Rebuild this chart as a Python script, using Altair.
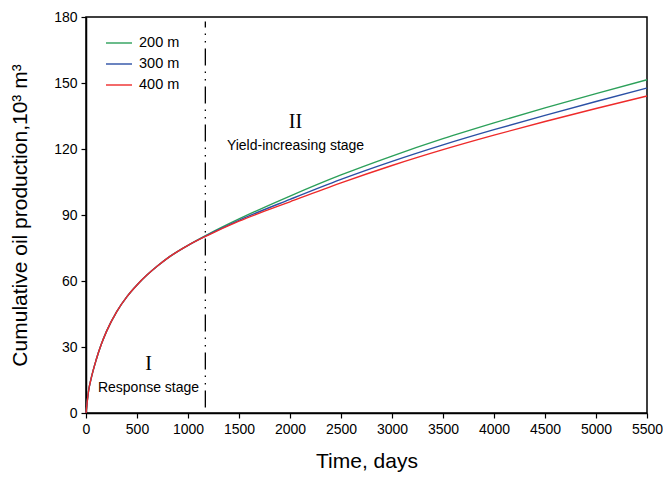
import altair as alt
import pandas as pd

# ---- data ----
days = [0, 25, 50, 100, 150, 200, 300, 400, 500, 600, 700, 800, 1000, 1200,
        1500, 2000, 2500, 3000, 3500, 4000, 4500, 5000, 5500]
prod_200 = [0, 10.0, 15.6, 24.2, 31.2, 37.0, 46.0, 52.8, 58.2, 62.8, 66.8, 70.4, 76.2, 81.3,
            88.2, 98.6, 108.2, 116.8, 124.7, 131.9, 138.7, 145.2, 151.5]
prod_300 = [0, 10.0, 15.6, 24.2, 31.2, 37.0, 46.0, 52.8, 58.2, 62.8, 66.8, 70.4, 76.2, 81.1,
            87.6, 97.1, 106.2, 114.4, 121.9, 128.8, 135.3, 141.6, 147.7]
prod_400 = [0, 10.0, 15.6, 24.2, 31.2, 37.0, 46.0, 52.8, 58.2, 62.8, 66.8, 70.4, 76.2, 80.9,
            87.2, 96.0, 104.6, 112.5, 119.7, 126.3, 132.5, 138.4, 144.1]
series_names = ["200 m", "300 m", "400 m"]
series_colors = ["#2ca05a", "#2b50a5", "#ee2a2a"]

x_ticks = list(range(0, 5501, 500))
y_ticks = list(range(0, 181, 30))

divider_day = [1170]
divider_lo = [2.5]
divider_hi = [178]

roman_labels = ["I", "II"]
roman_x = [613, 2054]
roman_y = [22.5, 132.5]
stage_labels = ["Response stage", "Yield-increasing stage"]
stage_x = [613, 2054]
stage_y = [11.5, 121.5]

rows = []
for name, vals in zip(series_names, [prod_200, prod_300, prod_400]):
    for d, v in zip(days, vals):
        rows.append({"day": d, "prod": v, "series": name})
df = pd.DataFrame(rows)

xscale = alt.Scale(domain=[0, 5500], nice=False)
yscale = alt.Scale(domain=[0, 180], nice=False)

lines = alt.Chart(df).mark_line(strokeWidth=1.4, interpolate="monotone").encode(
    x=alt.X("day:Q", scale=xscale,
            axis=alt.Axis(values=x_ticks, format="d", title="Time, days", grid=False,
                          labelFlush=False, labelOverlap=False)),
    y=alt.Y("prod:Q", scale=yscale,
            axis=alt.Axis(values=y_ticks, format="d", labelFlush=False,
                          title="Cumulative oil production,10³ m³", grid=False)),
    color=alt.Color("series:N",
                    scale=alt.Scale(domain=series_names, range=series_colors),
                    legend=alt.Legend(title=None, orient="none", legendX=19, legendY=12,
                                      symbolType="stroke", symbolSize=676,
                                      symbolStrokeWidth=1.4, labelFontSize=14.5,
                                      labelFont="Liberation Sans", labelOffset=6,
                                      labelColor="black", rowPadding=-3, padding=0)),
)

div_df = pd.DataFrame({"x": divider_day, "y": divider_lo, "y2": divider_hi})
divider = alt.Chart(div_df).mark_rule(color="black", strokeWidth=1.3,
                                       strokeDash=[17, 6, 1.5, 6, 1.5, 6]).encode(
    x=alt.X("x:Q", scale=xscale), y=alt.Y("y:Q", scale=yscale), y2="y2:Q")

roman_df = pd.DataFrame({"x": roman_x, "y": roman_y, "t": roman_labels})
roman = alt.Chart(roman_df).mark_text(font="Liberation Serif", fontSize=20,
                                      color="black").encode(
    x=alt.X("x:Q", scale=xscale), y=alt.Y("y:Q", scale=yscale), text="t:N")

stage_df = pd.DataFrame({"x": stage_x, "y": stage_y, "t": stage_labels})
stage = alt.Chart(stage_df).mark_text(font="Liberation Sans", fontSize=14,
                                      color="black").encode(
    x=alt.X("x:Q", scale=xscale), y=alt.Y("y:Q", scale=yscale), text="t:N")

chart = alt.layer(lines, divider, roman, stage).properties(
    width=561, height=396,
    autosize=alt.AutoSizeParams(type="none"),
    padding={"left": 78, "top": 9, "right": 16, "bottom": 61},
).configure_view(stroke="black", strokeWidth=1.5).configure_axis(
    domainColor="black", domainWidth=1.5, tickColor="black", tickSize=5,
    tickWidth=1.2, labelFont="Liberation Sans", labelFontSize=14,
    labelColor="black", titleFont="Liberation Sans", titleFontSize=21,
    titleFontWeight="normal", titleColor="black", labelPadding=4,
).configure_axisX(titlePadding=14).configure_axisY(titlePadding=23)

chart.save("out.html", embed_options={"renderer": "svg", "actions": False})
